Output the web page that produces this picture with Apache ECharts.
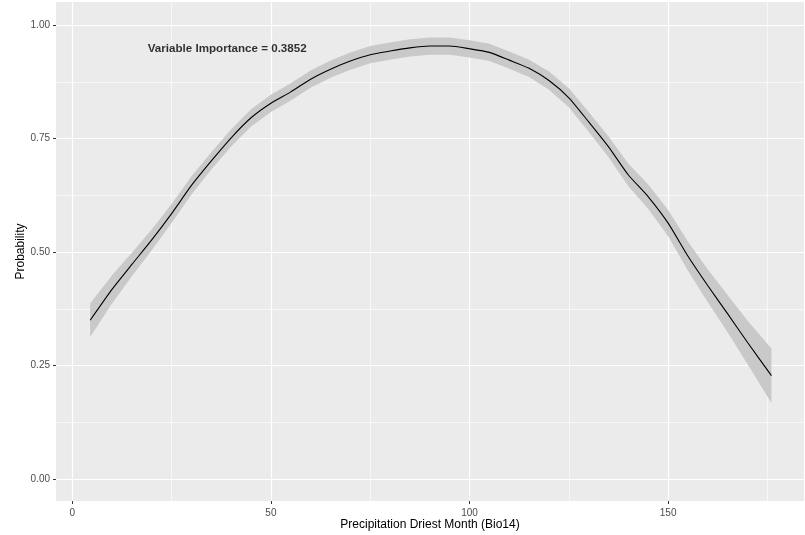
<!DOCTYPE html>
<html>
<head>
<meta charset="utf-8">
<script src="https://cdn.jsdelivr.net/npm/echarts@6/dist/echarts.min.js"></script>
<style>html,body{margin:0;padding:0;background:#fff}#c{width:805px;height:535px}</style>
</head>
<body>
<div id="c"></div>
<script>
var xVals   = [4.5, 10, 15, 20, 25, 30, 35, 40, 45, 50, 55, 60, 65, 70, 75, 80, 85, 90, 95, 100, 105, 110, 115, 120, 125, 130, 135, 140, 145, 150, 155, 160, 165, 170, 176];
var meanVals= [.350,.418,.473,.527,.585,.647,.701,.752,.796,.828,.853,.881,.903,.921,.935,.943,.950,.954,.954,.948,.940,.923,.905,.878,.840,.787,.732,.670,.622,.564,.491,.426,.364,.301,.228];
var lowerVals=[.313,.387,.447,.504,.564,.627,.682,.733,.777,.809,.834,.862,.884,.902,.916,.924,.931,.935,.935,.929,.921,.904,.886,.858,.819,.765,.709,.645,.595,.535,.459,.390,.323,.253,.168];
var upperVals=[.387,.449,.499,.550,.606,.667,.720,.771,.815,.847,.872,.900,.922,.940,.954,.962,.969,.973,.973,.967,.959,.942,.924,.898,.861,.809,.755,.695,.649,.593,.523,.462,.405,.349,.288];
var xMajorTicks = [0, 50, 100, 150];
var xMinorTicks = [25, 75, 125, 175];
var yMajorTicks = [0, 0.25, 0.5, 0.75, 1];
var yMinorTicks = [0.125, 0.375, 0.625, 0.875];
var xTitle = 'Precipitation Driest Month (Bio14)';
var yTitle = 'Probability';
var annotationText = 'Variable Importance = 0.3852';
var annotationPos = [39, 0.948];

var X_MIN = -4.1, X_MAX = 184.2, Y_MIN = -0.048, Y_MAX = 1.051;
var FONT = 'Liberation Sans, Arial, sans-serif';

var chart = echarts.init(document.getElementById('c'), null, {renderer: 'canvas'});

var bandData = xVals.map(function (x, i) { return [x, lowerVals[i], upperVals[i]]; });
var meanData = xVals.map(function (x, i) { return [x, meanVals[i]]; });

function renderRibbon(params, api) {
  if (params.dataIndex !== 0) return null;
  var pts = [];
  for (var i = 0; i < xVals.length; i++) pts.push(api.coord([xVals[i], upperVals[i]]));
  for (var j = xVals.length - 1; j >= 0; j--) pts.push(api.coord([xVals[j], lowerVals[j]]));
  return {
    type: 'polygon',
    shape: {points: pts},
    style: {fill: '#C9C9C9', stroke: null}
  };
}

var option = {
  animation: false,
  backgroundColor: '#ffffff',
  grid: [{
    left: 56, right: 1, top: 2, bottom: 34,
    show: true, backgroundColor: '#EBEBEB', borderWidth: 0,
    containLabel: false, outerBoundsMode: 'none'
  }],
  graphic: [{
    type: 'text', x: 430, y: 525, silent: true,
    style: {text: xTitle, fill: '#000000', font: '12px ' + FONT, align: 'center', verticalAlign: 'middle'}
  }, {
    type: 'text', x: 21, y: 251.5, rotation: Math.PI / 2, silent: true,
    style: {text: yTitle, fill: '#000000', font: '12px ' + FONT, align: 'center', verticalAlign: 'middle'}
  }],
  xAxis: [{
    type: 'value', min: X_MIN, max: X_MAX, gridIndex: 0,
    axisLine: {show: false, onZero: false},
    axisTick: {show: true, customValues: xMajorTicks, length: 3, lineStyle: {color: '#333333', width: 1}},
    axisLabel: {show: true, customValues: xMajorTicks, margin: 7, color: '#4D4D4D', fontSize: 10, fontFamily: FONT},
    splitLine: {show: true, lineStyle: {color: '#FFFFFF', width: 1.2}}
  }, {
    type: 'value', min: X_MIN, max: X_MAX, gridIndex: 0, position: 'bottom',
    axisLine: {show: false, onZero: false},
    axisTick: {show: false, customValues: xMinorTicks},
    axisLabel: {show: false, customValues: xMinorTicks},
    splitLine: {show: true, lineStyle: {color: '#FFFFFF', width: 0.6}}
  }],
  yAxis: [{
    type: 'value', min: Y_MIN, max: Y_MAX, gridIndex: 0,
    axisLine: {show: false, onZero: false},
    axisTick: {show: true, customValues: yMajorTicks, length: 3, lineStyle: {color: '#333333', width: 1}},
    axisLabel: {show: true, customValues: yMajorTicks, margin: 6, color: '#4D4D4D', fontSize: 10, fontFamily: FONT,
      formatter: function (v) { return v.toFixed(2); }},
    splitLine: {show: true, lineStyle: {color: '#FFFFFF', width: 1.2}}
  }, {
    type: 'value', min: Y_MIN, max: Y_MAX, gridIndex: 0, position: 'left',
    axisLine: {show: false, onZero: false},
    axisTick: {show: false, customValues: yMinorTicks},
    axisLabel: {show: false, customValues: yMinorTicks},
    splitLine: {show: true, lineStyle: {color: '#FFFFFF', width: 0.6}}
  }],
  series: [{
    type: 'custom', data: bandData, renderItem: renderRibbon, silent: true, z: 2,
    encode: {x: 0, y: [1, 2]}
  }, {
    type: 'line', data: meanData, symbol: 'none', smooth: 0.2,
    lineStyle: {color: '#000000', width: 1.1}, z: 3
  }, {
    type: 'scatter', data: [annotationPos], symbolSize: 0, z: 4,
    label: {show: true, position: 'inside', formatter: annotationText,
      color: '#000000', fontSize: 11.6, fontWeight: 'bold', fontFamily: FONT}
  }]
};
chart.setOption(option);
</script>
</body>
</html>
